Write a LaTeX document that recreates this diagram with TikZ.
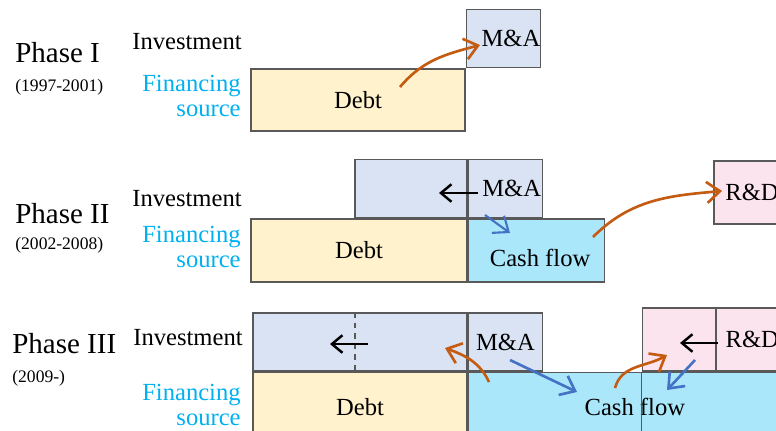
\documentclass[tikz,border=0pt]{standalone}
\usepackage{fontspec}
\setmainfont{Liberation Serif}
\usetikzlibrary{arrows.meta,positioning}
\definecolor{debtfill}{HTML}{FFF2CC}
\definecolor{invfill}{HTML}{DAE3F3}
\definecolor{cashfill}{HTML}{ABE7FB}
\definecolor{rdfill}{HTML}{FCE4EF}
\definecolor{finblue}{HTML}{00B0F0}
\definecolor{arrorange}{HTML}{C55A11}
\definecolor{arrblue}{HTML}{4472C4}
\definecolor{edgegray}{HTML}{595959}

\tikzset{
  box/.style={rectangle, draw=edgegray, line width=0.8pt, inner sep=0pt, font=\fontsize{14}{16}\selectfont},
  phase/.style={anchor=west, inner sep=0pt, font=\fontsize{16.5}{18}\selectfont},
  period/.style={anchor=west, inner sep=0pt, font=\fontsize{10}{12}\selectfont},
  rowlbl/.style={anchor=east, inner sep=0pt, font=\fontsize{14}{14.5}\selectfont, align=right},
  flow/.style={-{Straight Barb[length=7.5pt,width=12pt]}, line width=1.5pt},
  push/.style={-{Straight Barb[length=6pt,width=10pt]}, line width=1.4pt, black},
}

\begin{document}
\begin{tikzpicture}[x=0.02cm, y=0.02cm]
  \useasboundingbox (0,0) rectangle (776,-430);
  \clip (0,0) rectangle (776,-430);

  % Phase I
  \node[phase] (ph1) at (15,-53) {Phase I};
  \node[period] (yr1) at (15,-87) {(1997-2001)};
  \node[rowlbl] (inv1lbl) at (242,-42) {Investment};
  \node[rowlbl, text=finblue] (fin1lbl) at (241,-96) {Financing\\source};

  \node[box, fill=debtfill, minimum width=4.28cm, minimum height=1.24cm] (debt1) at (358,-100) {Debt};
  \node[box, fill=invfill, minimum width=1.48cm, minimum height=1.16cm, anchor=south west] (ma1) at (debt1.north east) {\hspace{0.3cm}M\&A};

  \coordinate (o1s) at (400,-87);
  \coordinate (o1e) at (480,-45);
  \draw[flow, arrorange] (o1s) to[out=50, in=195] (o1e);

  % Phase II
  \node[phase] (ph2) at (15,-214) {Phase II};
  \node[period] (yr2) at (15,-245) {(2002-2008)};
  \node[rowlbl] (inv2lbl) at (242,-199) {Investment};
  \node[rowlbl, text=finblue] (fin2lbl) at (241,-247) {Financing\\source};

  \node[box, fill=debtfill, minimum width=4.32cm, minimum height=1.26cm] (debt2) at (359,-250.5) {Debt};
  \node[box, fill=cashfill, minimum width=2.72cm, minimum height=1.26cm, anchor=west, text height=0.62cm, text depth=0cm] (cash2) at (debt2.east) {\hspace{0.15cm}Cash flow};
  \node[box, fill=invfill, minimum width=2.24cm, minimum height=1.16cm, anchor=south east] (inv2) at (cash2.north west) {};
  \node[box, fill=invfill, minimum width=1.48cm, minimum height=1.16cm, anchor=south west] (ma2) at (cash2.north west) {\hspace{0.25cm}M\&A};
  \node[box, fill=rdfill, minimum width=1.52cm, minimum height=1.26cm] (rd2) at (752,-192.5) {R\&D};

  \coordinate (k2s) at (478,-193);
  \coordinate (k2e) at (439,-193);
  \coordinate (b2s) at (485,-215);
  \coordinate (b2e) at (510,-233);
  \coordinate (o2s) at (593,-237);
  \coordinate (o2e) at (722,-191);
  \draw[push] (k2s) -- (k2e);
  \draw[flow, arrblue, line width=1.2pt] (b2s) -- (b2e);
  \draw[flow, arrorange] (o2s) to[out=45, in=185] (o2e);

  % Phase III
  \node[phase] (ph3) at (12,-344) {Phase III};
  \node[period] (yr3) at (12,-378) {(2009-)};
  \node[rowlbl] (inv3lbl) at (243,-338) {Investment};
  \node[rowlbl, text=finblue] (fin3lbl) at (241,-405) {Financing\\source};

  \node[box, fill=invfill, minimum width=4.28cm, minimum height=1.16cm] (inv3) at (360,-342) {};
  \node[box, fill=invfill, minimum width=1.48cm, minimum height=1.16cm, anchor=west] (ma3) at (inv3.east) {M\&A};
  \node[box, fill=debtfill, minimum width=4.28cm, minimum height=1.38cm, anchor=north west] (debt3) at (inv3.south west) {Debt};
  \node[box, fill=cashfill, minimum width=6.66cm, minimum height=1.38cm, anchor=north west] (cash3) at (debt3.north east) {Cash flow};
  \node[box, fill=rdfill, minimum width=1.46cm, minimum height=1.26cm, anchor=south west] (rd3a) at ([xshift=3.48cm]cash3.north west) {};
  \node[box, fill=rdfill, minimum width=1.72cm, minimum height=1.26cm, anchor=west] (rd3b) at (rd3a.east) {R\&D\hspace*{0.3cm}};

  \draw[edgegray, line width=0.8pt] (rd3a.south west) -- (rd3a.south west |- cash3.south);
  \draw[edgegray, line width=0.8pt, dashed] ([xshift=-0.1cm]inv3.north) -- ([xshift=-0.1cm]inv3.south);

  \coordinate (k3s) at (368,-344);
  \coordinate (k3e) at (330,-344);
  \coordinate (k4s) at (718,-343);
  \coordinate (k4e) at (680,-343);
  \coordinate (o3s) at (489,-382);
  \coordinate (o3e) at (445,-348);
  \coordinate (o4s) at (615,-388);
  \coordinate (o4e) at (667,-355);
  \coordinate (b3s) at (510,-360);
  \coordinate (b3e) at (577,-392);
  \coordinate (b4s) at (695,-360);
  \coordinate (b4e) at (667,-390);
  \draw[push] (k3s) -- (k3e);
  \draw[push] (k4s) -- (k4e);
  \draw[flow, arrorange] (o3s) to[out=115, in=-20] (o3e);
  \draw[flow, arrorange] (o4s) to[out=75, in=210] (o4e);
  \draw[flow, arrblue] (b3s) -- (b3e);
  \draw[flow, arrblue] (b4s) -- (b4e);
\end{tikzpicture}
\end{document}
